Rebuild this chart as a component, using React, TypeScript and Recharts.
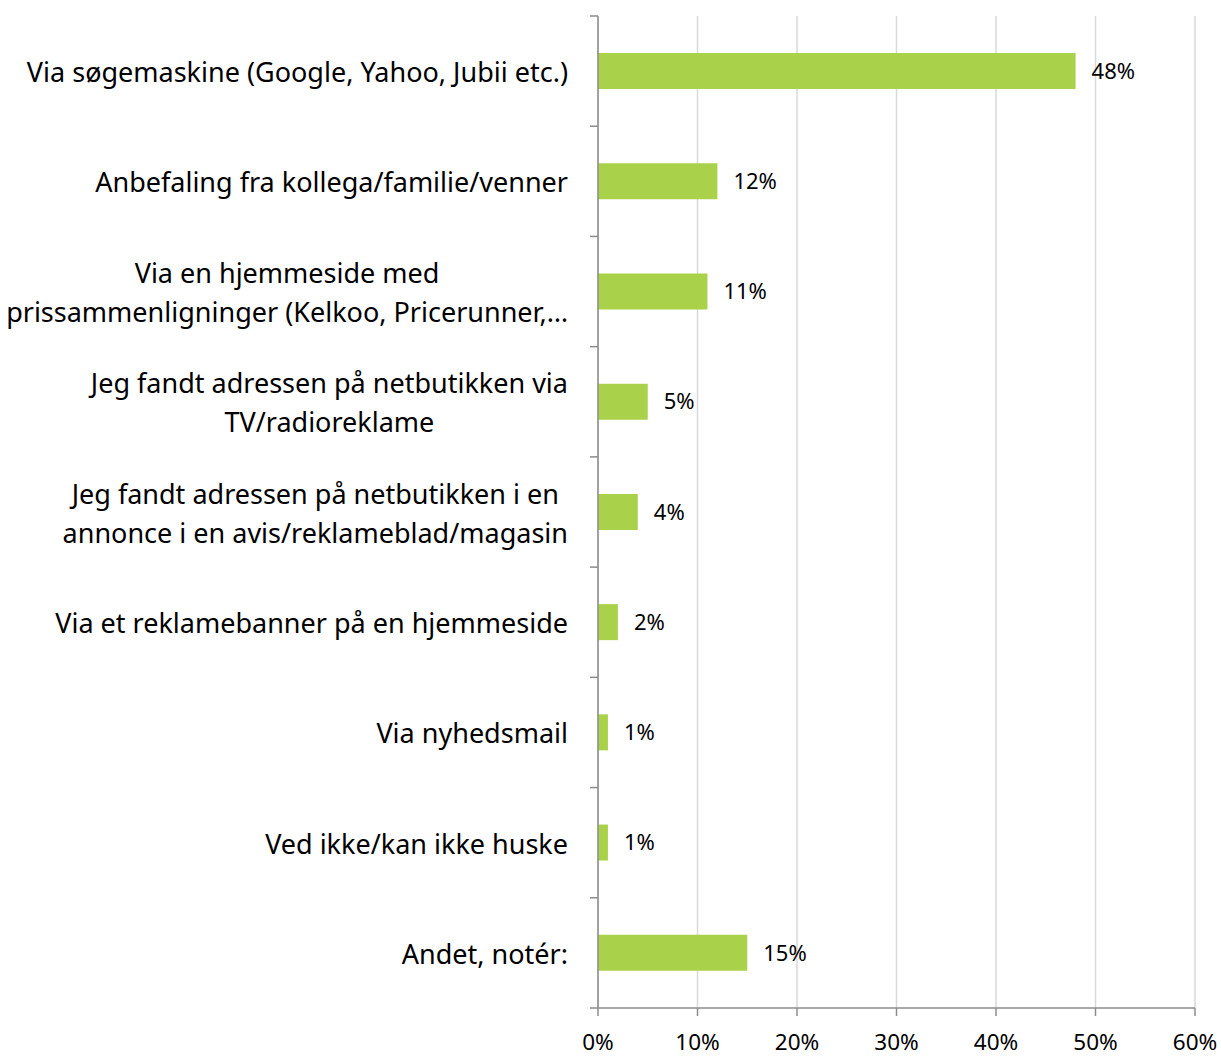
import { Bar, BarChart, CartesianGrid, LabelList, XAxis, YAxis } from "recharts";

const categories = [
  "Via søgemaskine (Google, Yahoo, Jubii etc.)",
  "Anbefaling fra kollega/familie/venner",
  "Via en hjemmeside med prissammenligninger (Kelkoo, Pricerunner,…",
  "Jeg fandt adressen på netbutikken via TV/radioreklame",
  "Jeg fandt adressen på netbutikken i en annonce i en avis/reklameblad/magasin",
  "Via et reklamebanner på en hjemmeside",
  "Via nyhedsmail",
  "Ved ikke/kan ikke huske",
  "Andet, notér:",
];

// how each category label is broken over lines
const labelLines = [
  ["Via søgemaskine (Google, Yahoo, Jubii etc.)"],
  ["Anbefaling fra kollega/familie/venner"],
  ["Via en hjemmeside med", "prissammenligninger (Kelkoo, Pricerunner,…"],
  ["Jeg fandt adressen på netbutikken via", "TV/radioreklame"],
  ["Jeg fandt adressen på netbutikken i en", "annonce i en avis/reklameblad/magasin"],
  ["Via et reklamebanner på en hjemmeside"],
  ["Via nyhedsmail"],
  ["Ved ikke/kan ikke huske"],
  ["Andet, notér:"],
];

const shares = [48, 12, 11, 5, 4, 2, 1, 1, 15];

const xTicks = [0, 10, 20, 30, 40, 50, 60];

const data = categories.map((name, i) => ({ name, value: shares[i] }));

const WIDTH = 1221;
const HEIGHT = 1059;
const X_AXIS_H = 51;
const MARGIN = { top: 16, right: 26, bottom: 0, left: 0 };
const AXIS_W = 598;
const BAND = (HEIGHT - MARGIN.top - X_AXIS_H) / categories.length;
const AXIS_COLOR = "#8c8c8c";
const FONT = "'Noto Sans', sans-serif";
const LABEL_SIZE = 27;

let measureCtx: CanvasRenderingContext2D | null = null;
const textWidth = (s: string) => {
  if (!measureCtx) {
    measureCtx = document.createElement("canvas").getContext("2d");
  }
  if (!measureCtx) return s.length * LABEL_SIZE * 0.5;
  measureCtx.font = `${LABEL_SIZE}px 'Noto Sans'`;
  return measureCtx.measureText(s).width;
};

const CategoryTick = (props: any) => {
  const { y, payload, index } = props;
  const i = payload?.index ?? index;
  const lines = labelLines[i] || [String(payload.value)];
  const lineH = 39;
  const rightX = AXIS_W - 30;
  // multi-line labels are centred on each other, block right-aligned
  const blockW = Math.max(...lines.map(textWidth));
  const midX = rightX - blockW / 2;
  const startY = y - ((lines.length - 1) * lineH) / 2;
  return (
    <g>
      <line
        x1={AXIS_W - 8}
        x2={AXIS_W}
        y1={y - BAND / 2}
        y2={y - BAND / 2}
        stroke={AXIS_COLOR}
        strokeWidth={1.5}
      />
      {i === categories.length - 1 && (
        <line
          x1={AXIS_W - 8}
          x2={AXIS_W}
          y1={y + BAND / 2}
          y2={y + BAND / 2}
          stroke={AXIS_COLOR}
          strokeWidth={1.5}
        />
      )}
      <text
        x={midX}
        y={startY}
        textAnchor="middle"
        dominantBaseline="central"
        fontSize={LABEL_SIZE}
        fontFamily={FONT}
        fill="#000"
      >
        {lines.map((l: string, k: number) => (
          <tspan key={k} x={midX} dy={k === 0 ? 0 : lineH}>
            {l}
          </tspan>
        ))}
      </text>
    </g>
  );
};

export default function App() {
  return (
    <div style={{ position: "absolute", left: 0, top: 0, background: "#fff" }}>
      <BarChart
        width={WIDTH}
        height={HEIGHT}
        data={data}
        layout="vertical"
        margin={MARGIN}
      >
        <CartesianGrid horizontal={false} stroke="#d9d9d9" strokeWidth={1.5} />
        <XAxis
          type="number"
          domain={[0, 60]}
          ticks={xTicks}
          tickFormatter={(v) => `${v}%`}
          height={X_AXIS_H}
          stroke={AXIS_COLOR}
          strokeWidth={1.5}
          tickSize={8}
          tickMargin={18}
          interval={0}
          tick={{ fill: "#000", fontSize: 22.5, fontFamily: FONT }}
        />
        <YAxis
          type="category"
          dataKey="name"
          width={AXIS_W}
          stroke={AXIS_COLOR}
          strokeWidth={1.5}
          tickLine={false}
          interval={0}
          tick={<CategoryTick />}
        />
        <Bar dataKey="value" fill="#a9d24a" barSize={36} isAnimationActive={false}>
          <LabelList
            dataKey="value"
            position="right"
            offset={16}
            formatter={(v: any) => `${v}%`}
            fill="#000"
            fontSize={22}
            fontFamily={FONT}
          />
        </Bar>
      </BarChart>
    </div>
  );
}
